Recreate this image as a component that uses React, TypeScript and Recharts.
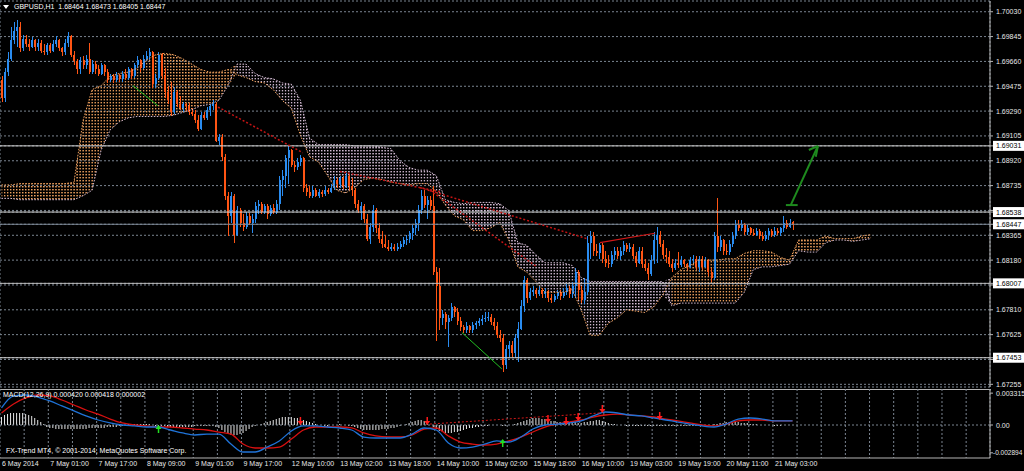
import React from "react";
import {
  ComposedChart,
  Bar,
  Line,
  Area,
  Scatter,
  XAxis,
  YAxis,
  CartesianGrid,
  ReferenceLine,
} from "recharts";

// GBPUSD H1, one entry per hourly bar (6 May 09:00 .. 21 May 09:00)
const opens = [
  1.6952, 1.6939, 1.6958, 1.6968, 1.6982, 1.6989, 1.6992, 1.6976, 1.6983, 1.6979,
  1.6977, 1.6982, 1.6977, 1.698, 1.6974, 1.6973, 1.6978, 1.6974, 1.6979, 1.6982,
  1.6976, 1.6973, 1.698, 1.6985, 1.6971, 1.6966, 1.696, 1.6967, 1.6963, 1.6968,
  1.6958, 1.6964, 1.696, 1.6957, 1.6963, 1.6958, 1.6952, 1.6955, 1.6952, 1.6956,
  1.6953, 1.6957, 1.6954, 1.696, 1.6955, 1.6963, 1.6967, 1.6961, 1.6968, 1.697,
  1.6973, 1.6949, 1.6954, 1.6971, 1.6955, 1.6943, 1.6937, 1.6928, 1.6943, 1.6934,
  1.6931, 1.6934, 1.6933, 1.6928, 1.6927, 1.6922, 1.6916, 1.6926, 1.6924, 1.693,
  1.6933, 1.6934, 1.6907, 1.691, 1.6895, 1.6866, 1.6851, 1.6866, 1.6837, 1.6855,
  1.6846, 1.6843, 1.6851, 1.6846, 1.6849, 1.6858, 1.686, 1.6854, 1.6858, 1.6852,
  1.6857, 1.6854, 1.686, 1.6878, 1.6881, 1.6894, 1.69, 1.6889, 1.6887, 1.6891,
  1.6894, 1.6872, 1.6869, 1.6866, 1.687, 1.6866, 1.6869, 1.6867, 1.687, 1.6869,
  1.6872, 1.6878, 1.6875, 1.6879, 1.6873, 1.6881, 1.6873, 1.687, 1.686, 1.6855,
  1.6858, 1.6849, 1.6834, 1.6843, 1.6855, 1.6842, 1.6834, 1.683, 1.6828, 1.6826,
  1.6828, 1.6826, 1.6828, 1.683, 1.6833, 1.6834, 1.6838, 1.6842, 1.6846, 1.6855,
  1.6866, 1.6859, 1.6863, 1.6858, 1.6809, 1.6799, 1.6775, 1.6778, 1.6772, 1.6775,
  1.6783, 1.6779, 1.6773, 1.6768, 1.6766, 1.6769, 1.6766, 1.677, 1.6771, 1.6773,
  1.6774, 1.6775, 1.6776, 1.6772, 1.6769, 1.6762, 1.676, 1.674, 1.6752, 1.6755,
  1.6749, 1.676, 1.6767, 1.6784, 1.6803, 1.679, 1.6794, 1.6796, 1.6793, 1.6796,
  1.6793, 1.6795, 1.679, 1.6788, 1.6791, 1.6794, 1.6791, 1.6794, 1.6797, 1.6793,
  1.6799, 1.6809, 1.6796, 1.6788, 1.6794, 1.6831, 1.6836, 1.6825, 1.6823, 1.6829,
  1.6819, 1.6816, 1.6815, 1.6822, 1.6825, 1.6821, 1.6825, 1.6829, 1.6826, 1.6828,
  1.6821, 1.6816, 1.6825, 1.6815, 1.6812, 1.6808, 1.6818, 1.6833, 1.6837, 1.683,
  1.6822, 1.682, 1.6815, 1.6812, 1.6816, 1.6814, 1.6818, 1.6815, 1.6813, 1.6818,
  1.6819, 1.6813, 1.6819, 1.6813, 1.6818, 1.6809, 1.6805, 1.6836, 1.6828, 1.6833,
  1.6825, 1.6824, 1.683, 1.6836, 1.6844, 1.6842, 1.6845, 1.6839, 1.6842, 1.6838,
  1.6837, 1.684, 1.6836, 1.6834, 1.6837, 1.684, 1.6837, 1.684, 1.6838, 1.6842,
  1.6846, 1.6843, 1.68464,
];
const highs = [
  1.6955, 1.6961, 1.6973, 1.6992, 1.6995, 1.6997, 1.6995, 1.6986, 1.6986, 1.6983,
  1.6984, 1.6983, 1.6983, 1.6982, 1.6979, 1.698, 1.698, 1.6982, 1.6985, 1.6983,
  1.6977, 1.6983, 1.6988, 1.6986, 1.6974, 1.6968, 1.6969, 1.697, 1.6971, 1.698,
  1.6967, 1.6966, 1.6963, 1.6965, 1.6964, 1.696, 1.6957, 1.6957, 1.6958, 1.6957,
  1.6959, 1.696, 1.6962, 1.6961, 1.6965, 1.697, 1.6968, 1.6971, 1.6974, 1.6976,
  1.6974, 1.6957, 1.6973, 1.6972, 1.6961, 1.6948, 1.6951, 1.6947, 1.6945, 1.694,
  1.6936, 1.6935, 1.6935, 1.6931, 1.693, 1.6926, 1.6928, 1.6928, 1.6932, 1.6934,
  1.6937, 1.6936, 1.6912, 1.6912, 1.6897, 1.6869, 1.6869, 1.6867, 1.6858, 1.6857,
  1.6852, 1.6854, 1.6853, 1.6852, 1.6861, 1.6863, 1.6861, 1.686, 1.686, 1.6859,
  1.686, 1.6863, 1.6881, 1.6885, 1.6896, 1.6903, 1.6901, 1.6892, 1.6894, 1.6896,
  1.6895, 1.6875, 1.6873, 1.6873, 1.6872, 1.6871, 1.687, 1.6873, 1.6872, 1.6875,
  1.6881, 1.6879, 1.6881, 1.6881, 1.6883, 1.6882, 1.6879, 1.6872, 1.6863, 1.6861,
  1.686, 1.6852, 1.6846, 1.6859, 1.6857, 1.6846, 1.684, 1.6837, 1.6833, 1.6831,
  1.683, 1.6831, 1.6832, 1.6835, 1.6837, 1.684, 1.6844, 1.6849, 1.6859, 1.687,
  1.687, 1.6866, 1.6866, 1.6873, 1.6813, 1.6812, 1.6781, 1.6779, 1.6777, 1.6786,
  1.6784, 1.6782, 1.6776, 1.677, 1.6772, 1.677, 1.6772, 1.6773, 1.6775, 1.6777,
  1.6779, 1.6779, 1.6778, 1.6775, 1.6772, 1.6766, 1.6763, 1.6755, 1.6758, 1.6758,
  1.6763, 1.6772, 1.6788, 1.6806, 1.6805, 1.6797, 1.6799, 1.6797, 1.6799, 1.6797,
  1.6797, 1.6796, 1.6793, 1.6793, 1.6796, 1.6796, 1.6797, 1.68, 1.6799, 1.6802,
  1.6812, 1.6811, 1.6799, 1.6805, 1.6836, 1.684, 1.6839, 1.683, 1.6831, 1.6831,
  1.6825, 1.6822, 1.6825, 1.6828, 1.6828, 1.6828, 1.6832, 1.6831, 1.6831, 1.683,
  1.6824, 1.6828, 1.6828, 1.6819, 1.6816, 1.6822, 1.6839, 1.6843, 1.684, 1.6833,
  1.6827, 1.6825, 1.6819, 1.6819, 1.6824, 1.6821, 1.6819, 1.6816, 1.682, 1.6822,
  1.6821, 1.6821, 1.6821, 1.682, 1.6819, 1.6812, 1.6839, 1.6864, 1.6836, 1.6834,
  1.683, 1.6833, 1.6839, 1.6848, 1.6848, 1.6848, 1.6846, 1.6844, 1.6843, 1.6841,
  1.6842, 1.6841, 1.6839, 1.684, 1.6842, 1.6841, 1.6843, 1.6842, 1.6843, 1.6851,
  1.6848, 1.6849, 1.68473,
];
const lows = [
  1.6936, 1.6936, 1.6955, 1.6966, 1.6979, 1.6977, 1.6973, 1.6974, 1.6977, 1.6974,
  1.6976, 1.6974, 1.6974, 1.6972, 1.6971, 1.6971, 1.6972, 1.6973, 1.6977, 1.6974,
  1.697, 1.6971, 1.6977, 1.6969, 1.6963, 1.6957, 1.6957, 1.696, 1.696, 1.6957,
  1.6957, 1.6957, 1.6955, 1.6956, 1.6955, 1.695, 1.6951, 1.695, 1.6951, 1.6951,
  1.6951, 1.6952, 1.6952, 1.6953, 1.6954, 1.6961, 1.6958, 1.696, 1.6966, 1.6967,
  1.6946, 1.6946, 1.6952, 1.6953, 1.6939, 1.6934, 1.6925, 1.6927, 1.6932, 1.693,
  1.6928, 1.6929, 1.6926, 1.6925, 1.692, 1.6914, 1.6915, 1.6922, 1.6922, 1.6925,
  1.693, 1.6906, 1.6904, 1.6892, 1.6863, 1.6836, 1.6846, 1.6831, 1.6836, 1.6843,
  1.684, 1.6841, 1.6844, 1.6838, 1.6846, 1.6852, 1.6852, 1.6852, 1.6849, 1.6851,
  1.6852, 1.6852, 1.6855, 1.6866, 1.6872, 1.6875, 1.6887, 1.6884, 1.6885, 1.6888,
  1.6869, 1.6866, 1.6864, 1.6864, 1.6865, 1.6864, 1.6865, 1.6866, 1.6867, 1.6868,
  1.687, 1.6872, 1.6872, 1.6871, 1.6872, 1.687, 1.6866, 1.6857, 1.6853, 1.6848,
  1.6846, 1.6832, 1.683, 1.6839, 1.6838, 1.6831, 1.6827, 1.6827, 1.6825, 1.6825,
  1.6825, 1.6825, 1.6826, 1.6828, 1.6829, 1.6831, 1.6833, 1.6837, 1.684, 1.6852,
  1.6857, 1.6849, 1.6855, 1.6807, 1.6758, 1.6766, 1.677, 1.6767, 1.6753, 1.6773,
  1.6776, 1.677, 1.6765, 1.6764, 1.6764, 1.6764, 1.6764, 1.6767, 1.6769, 1.677,
  1.6772, 1.6773, 1.677, 1.6766, 1.676, 1.6757, 1.6735, 1.6737, 1.6746, 1.6746,
  1.6745, 1.6742, 1.6766, 1.6779, 1.6786, 1.6788, 1.6791, 1.679, 1.6791, 1.679,
  1.679, 1.6787, 1.6786, 1.6787, 1.6789, 1.6788, 1.679, 1.6792, 1.679, 1.679,
  1.679, 1.6788, 1.6786, 1.6785, 1.6792, 1.6819, 1.6821, 1.6821, 1.6819, 1.6816,
  1.6813, 1.6812, 1.6813, 1.6818, 1.6819, 1.6818, 1.6822, 1.6824, 1.6824, 1.6819,
  1.6813, 1.6815, 1.6812, 1.681, 1.6803, 1.6806, 1.6815, 1.6816, 1.6828, 1.6819,
  1.6816, 1.6813, 1.6809, 1.6811, 1.6812, 1.6813, 1.6813, 1.6811, 1.6812, 1.6815,
  1.6811, 1.6809, 1.6811, 1.6812, 1.6806, 1.6802, 1.6803, 1.6824, 1.6825, 1.6822,
  1.6822, 1.6822, 1.6828, 1.6834, 1.684, 1.684, 1.6837, 1.6837, 1.6837, 1.6836,
  1.6836, 1.6834, 1.6832, 1.6832, 1.6833, 1.6835, 1.6835, 1.6837, 1.6836, 1.6839,
  1.6841, 1.6842, 1.68405,
];
const closes = [
  1.6939, 1.6958, 1.6968, 1.6982, 1.6989, 1.6992, 1.6976, 1.6983, 1.6979, 1.6977,
  1.6982, 1.6977, 1.698, 1.6974, 1.6973, 1.6978, 1.6974, 1.6979, 1.6982, 1.6976,
  1.6973, 1.698, 1.6985, 1.6971, 1.6966, 1.696, 1.6967, 1.6963, 1.6968, 1.6958,
  1.6964, 1.696, 1.6957, 1.6963, 1.6958, 1.6952, 1.6955, 1.6952, 1.6956, 1.6953,
  1.6957, 1.6954, 1.696, 1.6955, 1.6963, 1.6967, 1.6961, 1.6968, 1.697, 1.6973,
  1.6949, 1.6954, 1.6971, 1.6955, 1.6943, 1.6937, 1.6928, 1.6943, 1.6934, 1.6931,
  1.6934, 1.6933, 1.6928, 1.6927, 1.6922, 1.6916, 1.6926, 1.6924, 1.693, 1.6933,
  1.6934, 1.6907, 1.691, 1.6895, 1.6866, 1.6851, 1.6866, 1.6837, 1.6855, 1.6846,
  1.6843, 1.6851, 1.6846, 1.6849, 1.6858, 1.686, 1.6854, 1.6858, 1.6852, 1.6857,
  1.6854, 1.686, 1.6878, 1.6881, 1.6894, 1.69, 1.6889, 1.6887, 1.6891, 1.6894,
  1.6872, 1.6869, 1.6866, 1.687, 1.6866, 1.6869, 1.6867, 1.687, 1.6869, 1.6872,
  1.6878, 1.6875, 1.6879, 1.6873, 1.6881, 1.6873, 1.687, 1.686, 1.6855, 1.6858,
  1.6849, 1.6834, 1.6843, 1.6855, 1.6842, 1.6834, 1.683, 1.6828, 1.6826, 1.6828,
  1.6826, 1.6828, 1.683, 1.6833, 1.6834, 1.6838, 1.6842, 1.6846, 1.6855, 1.6866,
  1.6859, 1.6863, 1.6858, 1.6809, 1.6799, 1.6775, 1.6778, 1.6772, 1.6775, 1.6783,
  1.6779, 1.6773, 1.6768, 1.6766, 1.6769, 1.6766, 1.677, 1.6771, 1.6773, 1.6774,
  1.6775, 1.6776, 1.6772, 1.6769, 1.6762, 1.676, 1.674, 1.6752, 1.6755, 1.6749,
  1.676, 1.6767, 1.6784, 1.6803, 1.679, 1.6794, 1.6796, 1.6793, 1.6796, 1.6793,
  1.6795, 1.679, 1.6788, 1.6791, 1.6794, 1.6791, 1.6794, 1.6797, 1.6793, 1.6799,
  1.6809, 1.6796, 1.6788, 1.6794, 1.6831, 1.6836, 1.6825, 1.6823, 1.6829, 1.6819,
  1.6816, 1.6815, 1.6822, 1.6825, 1.6821, 1.6825, 1.6829, 1.6826, 1.6828, 1.6821,
  1.6816, 1.6825, 1.6815, 1.6812, 1.6808, 1.6818, 1.6833, 1.6837, 1.683, 1.6822,
  1.682, 1.6815, 1.6812, 1.6816, 1.6814, 1.6818, 1.6815, 1.6813, 1.6818, 1.6819,
  1.6813, 1.6819, 1.6813, 1.6818, 1.6809, 1.6805, 1.6836, 1.6828, 1.6833, 1.6825,
  1.6824, 1.683, 1.6836, 1.6844, 1.6842, 1.6845, 1.6839, 1.6842, 1.6838, 1.6837,
  1.684, 1.6836, 1.6834, 1.6837, 1.684, 1.6837, 1.684, 1.6838, 1.6842, 1.6846,
  1.6843, 1.6846, 1.68447,
];

// Ichimoku senkou spans, read every 3rd bar (bar 0 .. 288, cloud runs 26 bars ahead)
const spanA = [
  1.6874, 1.6874, 1.6875, 1.6875, 1.6875, 1.6875, 1.6875, 1.6875, 1.6876, 1.6922,
  1.6945, 1.6948, 1.6955, 1.6957, 1.6958, 1.6961, 1.6967, 1.6971, 1.6972, 1.6971,
  1.6968, 1.6964, 1.696, 1.6958, 1.6958, 1.696, 1.6956, 1.6954, 1.6951, 1.695,
  1.6945, 1.6937, 1.6931, 1.6911, 1.6895, 1.6891, 1.6881, 1.687, 1.6868, 1.6872,
  1.6878, 1.6879, 1.6878, 1.6876, 1.6875, 1.6874, 1.6875, 1.6875, 1.6869, 1.6859,
  1.6851, 1.6848, 1.684, 1.684, 1.6842, 1.6846, 1.6833, 1.6813, 1.6809, 1.6802,
  1.6794, 1.6794, 1.6794, 1.6796, 1.6781, 1.6762, 1.6762, 1.6771, 1.6775, 1.6781,
  1.678, 1.6779, 1.6783, 1.6792, 1.6805, 1.6811, 1.6814, 1.6818, 1.6818, 1.6818,
  1.6819, 1.6819, 1.6823, 1.6825, 1.6825, 1.6824, 1.682, 1.6818, 1.6833, 1.6833,
  1.6833, 1.6836, 1.6834, 1.6834, 1.6834, 1.6836, 1.6837,
];
const spanB = [
  1.6864, 1.6864, 1.6863, 1.6863, 1.6863, 1.6863, 1.6863, 1.6863, 1.6863, 1.6866,
  1.687, 1.69, 1.6915, 1.6921, 1.6924, 1.6925, 1.6925, 1.6925, 1.6925, 1.6926,
  1.6928, 1.693, 1.6933, 1.6934, 1.6937, 1.6948, 1.6964, 1.6964, 1.6957, 1.6954,
  1.6953, 1.695, 1.6949, 1.6937, 1.6909, 1.6904, 1.6904, 1.6904, 1.6904, 1.6903,
  1.6903, 1.6903, 1.6902, 1.6901, 1.6892, 1.6887, 1.6885, 1.6885, 1.6881, 1.6863,
  1.6861, 1.686, 1.6861, 1.6861, 1.6861, 1.686, 1.6855, 1.6831, 1.6829, 1.6822,
  1.6816, 1.6816, 1.6816, 1.6814, 1.6805, 1.6802, 1.6802, 1.6802, 1.6802, 1.6802,
  1.6802, 1.6802, 1.6802, 1.6802, 1.6784, 1.6786, 1.6786, 1.6786, 1.6786, 1.6786,
  1.6786, 1.6786, 1.6794, 1.6811, 1.6813, 1.6813, 1.6814, 1.6815, 1.6825, 1.6824,
  1.6824, 1.6831, 1.6833, 1.6833, 1.6832, 1.6833, 1.6834,
];

// MACD(12,26,9) in points (0.00001), read every 4th bar plus the last bar
const macdPts = [
  177, 302, 312, 291, 250, 198, 146, 94, 52, 21,
  0, -10, -21, -21, -52, -83, -104, -94, -94, -198,
  -281, -281, -229, -166, -62, -10, -10, -21, -31, -52,
  -125, -135, -135, -135, -94, -31, -52, -187, -239, -229,
  -198, -166, -177, -125, -42, 0, 10, 21, 42, 94,
  135, 125, 104, 94, 73, 52, 31, 10, -10, -21,
  10, 62, 73, 62, 42, 42, 42,
];
const signalPts = [
  125, 218, 281, 312, 302, 260, 208, 156, 114, 62,
  21, 0, -10, -21, -21, -31, -42, -52, -73, -94,
  -198, -239, -239, -229, -146, -52, -21, -21, -21, -31,
  -83, -114, -125, -125, -104, -42, -31, -114, -177, -198,
  -208, -198, -166, -125, -73, -21, 10, 31, 52, 83,
  104, 114, 104, 94, 83, 62, 42, 21, 0, -10,
  10, 42, 52, 52, 42, 42, 42,
];
// histogram in points, one per bar
const osmaPts = [
  83, 104, 114, 125, 125, 125, 125, 125, 114, 104, 94, 73, 52, 31, 10,
  -21, -31, -31, -42, -42, -42, -42, -42, -42, -42, -42, -42, -42, -42,
  -31, -31, -31, -31, -31, -31, -21, -21, -21, -21, -10, -10,
  0, 10, 10, 10, 10, 10, 10, 10, 10, 0,
  -10, -10, -10, -10, -21, -21, -21, -21, -21, -21, -21, -21, -21,
  -10, -10, -10, -10, -10, -10, -10,
  -21, -31, -52, -73, -94, -104, -104, -104, -94, -83, -62, -42, -21, -10, 0, 10,
  21, 31, 42, 52, 62, 73, 83, 83, 83, 83, 73, 73, 62, 52, 42, 31, 21, 10,
  0, 0, -10, -10, 0, 0, 0, 10, 0, 0, -10, -10, -21, -31,
  -42, -52, -52, -52, -52, -52, -52, -42, -42, -42, -31, -31, -21, -10, 0,
  10, 21, 31, 42, 52, 52, 42, 21,
  0, -21, -42, -62, -73, -83, -83, -83, -73, -73, -62, -52, -42, -31, -31, -21, -21,
  -10, -10, -10, 0, 0, 0, 0, -10, -10, 0, 0, 10,
  21, 31, 42, 52, 62, 73, 73, 73, 62, 62, 52, 42, 42, 31, 31, 21,
  21, 31, 31, 31, 21, 21, 31, 31, 42, 42, 52, 52, 42, 31, 21,
  10, 10, 0, 0, 0,
  -10, -10, -10, -10, -10, -10, -10, -10, -10,
  -10, -10, -10, -10, -10, -10, -10, -10, -10,
  -10, -10, -10, -10, -10, -10, -10, -10, -10,
  0, 0, 10, 10, 21, 21, 31, 31, 31, 31, 31, 21, 21, 21, 10, 10, 10, 0, 0,
  0, 0, 0, -10, -10, -10, 0, 0, 0, 0,
];
// MACD signal arrows (bar, points)
const sellArrows = [
  { i: 99, v: 31 }, { i: 141, v: 31 }, { i: 181, v: 52 }, { i: 187, v: 31 },
  { i: 191, v: 73 }, { i: 199, v: 156 }, { i: 218, v: 83 },
];
const buyArrows = [{ i: 52, v: -31 }, { i: 166, v: -177 }];

const timeLabels = [
  "6 May 2014", "7 May 01:00", "7 May 17:00", "8 May 09:00", "9 May 01:00",
  "9 May 17:00", "12 May 10:00", "13 May 02:00", "13 May 18:00", "14 May 10:00",
  "15 May 02:00", "15 May 18:00", "16 May 10:00", "19 May 03:00", "19 May 19:00",
  "20 May 11:00", "21 May 03:00",
];
const priceTicks = [
  1.7003, 1.69845, 1.6966, 1.69475, 1.6929, 1.69105, 1.6892, 1.68735,
  1.6855, 1.68365, 1.6818, 1.67995, 1.6781, 1.67625, 1.6744, 1.67255,
];
const levels = [
  { price: 1.69031, color: "#d2d2d2" },
  { price: 1.68538, color: "#d2d2d2" },
  { price: 1.68447, color: "#7d8b99" },
  { price: 1.68007, color: "#bdbdbd" },
  { price: 1.67453, color: "#d2d2d2" },
];
const macdTicks = [0.003315, 0, -0.002894];

// hand drawn objects on the chart (bar, price)
const redDotted = [
  [{ x: 71.7, y: 1.6932 }, { x: 99.8, y: 1.6898 }],
  [{ x: 112.1, y: 1.6884 }, { x: 145.2, y: 1.6869 }],
  [{ x: 138.6, y: 1.6872 }, { x: 193.9, y: 1.6834 }],
  [{ x: 141.9, y: 1.687 }, { x: 177.3, y: 1.6813 }],
];
const redSolid = [{ x: 198.2, y: 1.6831 }, { x: 216.4, y: 1.6838 }];
const greenThin = [
  [{ x: 43.5, y: 1.6948 }, { x: 51.8, y: 1.6933 }],
  [{ x: 152.5, y: 1.6764 }, { x: 165.7, y: 1.6737 }],
];
const greenArrow = [
  [{ x: 259.8, y: 1.6859 }, { x: 263.7, y: 1.6859 }],
  [{ x: 261.4, y: 1.6859 }, { x: 270.4, y: 1.6903 }],
  [{ x: 270.4, y: 1.6903 }, { x: 267.4, y: 1.69 }],
  [{ x: 270.4, y: 1.6903 }, { x: 269.7, y: 1.6895 }],
];

const BULL = "#2a8cf0";
const BEAR = "#ff5514";
const SANDY = "#f4a460";
const THISTLE = "#d8bfd8";
const GRID = "#7b8591";
const FONT = "Liberation Sans, Arial, sans-serif";
const X_DOMAIN = [-0.5, 327.4];

const candleRows = closes.map((c, i) => ({
  i,
  open: opens[i],
  high: highs[i],
  low: lows[i],
  close: c,
}));

const cloudRows = spanA.map((a, k) => ({
  i: k * 3,
  a,
  b: spanB[k],
  range: [Math.min(a, spanB[k]), Math.max(a, spanB[k])],
}));

// split the cloud where the spans cross so each piece gets its own colour
const cloudSegments: { bull: boolean; rows: typeof cloudRows }[] = [];
cloudRows.forEach((r) => {
  const bull = r.a >= r.b;
  const last = cloudSegments[cloudSegments.length - 1];
  if (!last || last.bull !== bull) {
    if (last) last.rows.push(r);
    cloudSegments.push({ bull, rows: [r] });
  } else {
    last.rows.push(r);
  }
});

const macdBars = [...Array.from({ length: 66 }, (_, k) => k * 4), 262];
const macdRows = macdBars.map((i, k) => ({
  i,
  macd: macdPts[k] / 100000,
  signal: signalPts[k] / 100000,
}));
const osmaRows = osmaPts.map((p, i) => ({ i, osma: p / 100000 }));
const sellRows = sellArrows.map((a) => ({ i: a.i, v: a.v / 100000 }));
const buyRows = buyArrows.map((a) => ({ i: a.i, v: a.v / 100000 }));

const gridTicks = Array.from({ length: 41 }, (_, k) => k * 8 - 0.5);

const Candle = (props: any) => {
  const { x, y, width, height, payload } = props;
  if (payload == null || x == null || y == null) return null;
  const { open, close, high, low } = payload;
  const color = close >= open ? BULL : BEAR;
  const cx = x + width / 2;
  const k = high > low ? height / (high - low) : 0;
  const top = y + (high - Math.max(open, close)) * k;
  const bot = y + (high - Math.min(open, close)) * k;
  return (
    <g shapeRendering="crispEdges">
      <rect x={cx - 0.5} y={y} width={1} height={Math.max(height, 1)} fill={color} />
      <rect x={cx - 1} y={top} width={2} height={Math.max(bot - top, 1)} fill={color} />
    </g>
  );
};

const PriceTick = (props: any) => {
  const { x, y, payload } = props;
  const v = payload.value;
  const lvl = levels.find((l) => Math.abs(l.price - v) < 1e-7);
  if (lvl) {
    return (
      <g>
        <rect x={x - 3} y={y - 5} width={32} height={10} fill="#ffffff" />
        <text x={x} y={y + 2.5} fontSize={7} fontFamily={FONT} fill="#000">
          {v.toFixed(5)}
        </text>
      </g>
    );
  }
  if (levels.some((l) => Math.abs(l.price - v) < 0.00025)) return <g />;
  return (
    <text x={x} y={y + 2.5} fontSize={7} fontFamily={FONT} fill="#e8e8e8">
      {v.toFixed(5)}
    </text>
  );
};

const MacdTick = (props: any) => {
  const { x, y, payload } = props;
  const v = payload.value;
  const text = v === 0 ? "0.00" : v.toFixed(6);
  // the negative label is the widest one; keep it inside the page
  const neg = v < 0;
  return (
    <text
      x={neg ? x - 3 : x}
      y={y + 2.5}
      fontSize={neg ? 6.5 : 7}
      fontFamily={FONT}
      fill="#e8e8e8"
    >
      {text}
    </text>
  );
};

const TimeTick = (props: any) => {
  const { x, y, payload } = props;
  const k = Math.round((payload.value + 0.5) / 8);
  if (k % 2 !== 0) return <g />;
  const label = timeLabels[k / 2];
  if (!label) return <g />;
  return (
    <text x={x + 2} y={y + 7.5} fontSize={7} fontFamily={FONT} fill="#e8e8e8">
      {label}
    </text>
  );
};

const DownArrow = (props: any) => {
  const { cx, cy } = props;
  if (cx == null || cy == null) return null;
  return (
    <g>
      <line x1={cx} x2={cx} y1={cy - 5} y2={cy} stroke="#ff1a1a" strokeWidth={1.5} />
      <path d={`M${cx - 3},${cy - 1} L${cx + 3},${cy - 1} L${cx},${cy + 3} Z`} fill="#ff1a1a" />
    </g>
  );
};

const UpArrow = (props: any) => {
  const { cx, cy } = props;
  if (cx == null || cy == null) return null;
  return (
    <g>
      <line x1={cx} x2={cx} y1={cy} y2={cy + 5} stroke="#22e022" strokeWidth={1.5} />
      <path d={`M${cx - 3},${cy + 1} L${cx + 3},${cy + 1} L${cx},${cy - 3} Z`} fill="#22e022" />
    </g>
  );
};

const textStyle: React.CSSProperties = {
  position: "absolute",
  fontFamily: FONT,
  fontSize: 7,
  lineHeight: "10px",
  color: "#ffffff",
  whiteSpace: "pre",
};

export default function App() {
  return (
    <div
      style={{
        position: "absolute",
        left: 0,
        top: 0,
        width: 1024,
        height: 471,
        background: "#000",
        overflow: "hidden",
        fontFamily: FONT,
      }}
    >
      <div style={{ position: "absolute", left: 0, top: 0 }}>
        <ComposedChart
          width={1024}
          height={388}
          data={candleRows}
          margin={{ top: 1, right: 0, bottom: 1, left: 0 }}
        >
          <defs>
            <pattern id="sandyDots" patternUnits="userSpaceOnUse" x={0.9} y={0} width={3.02} height={3}>
              <rect width={1.4} height={1.4} fill={SANDY} />
            </pattern>
            <pattern id="thistleDots" patternUnits="userSpaceOnUse" x={0.9} y={0} width={3.02} height={3}>
              <rect width={1.4} height={1.4} fill={THISTLE} />
            </pattern>
          </defs>
          <CartesianGrid stroke={GRID} strokeDasharray="2 2" />
          <XAxis
            dataKey="i"
            type="number"
            domain={X_DOMAIN}
            ticks={gridTicks}
            allowDataOverflow
            height={0}
            tick={false}
            tickLine={false}
            axisLine={{ stroke: "#b4b4b4" }}
          />
          <YAxis
            orientation="right"
            type="number"
            width={34}
            domain={[1.67235, 1.7011]}
            allowDataOverflow
            ticks={[...priceTicks, ...levels.map((l) => l.price)]}
            tick={<PriceTick />}
            tickSize={3}
            tickMargin={3}
            tickLine={{ stroke: "#b4b4b4" }}
            axisLine={{ stroke: "#b4b4b4" }}
            interval={0}
          />
          {cloudSegments.map((s, k) => (
            <Area
              key={`cloud-${k}`}
              data={s.rows}
              dataKey="range"
              type="linear"
              stroke="none"
              fill={s.bull ? "url(#sandyDots)" : "url(#thistleDots)"}
              fillOpacity={1}
              isAnimationActive={false}
            />
          ))}
          <Line
            data={cloudRows}
            dataKey="a"
            type="linear"
            stroke={SANDY}
            strokeDasharray="1.5 1.5"
            strokeWidth={1}
            dot={false}
            isAnimationActive={false}
          />
          <Line
            data={cloudRows}
            dataKey="b"
            type="linear"
            stroke={THISTLE}
            strokeDasharray="1.5 1.5"
            strokeWidth={1}
            dot={false}
            isAnimationActive={false}
          />
          {levels.map((l) => (
            <ReferenceLine key={l.price} y={l.price} stroke={l.color} strokeWidth={1} />
          ))}
          <Bar
            dataKey={(d: any) => [d.low, d.high]}
            shape={<Candle />}
            barSize={2}
            isAnimationActive={false}
          />
          {redDotted.map((seg, k) => (
            <ReferenceLine
              key={`rd-${k}`}
              segment={seg}
              stroke="#c41414"
              strokeDasharray="2 2"
              strokeWidth={1.5}
            />
          ))}
          <ReferenceLine segment={redSolid} stroke="#d01818" strokeWidth={1.2} />
          {greenThin.map((seg, k) => (
            <ReferenceLine key={`gt-${k}`} segment={seg} stroke="#22c022" strokeWidth={1} />
          ))}
          {greenArrow.map((seg, k) => (
            <ReferenceLine key={`ga-${k}`} segment={seg} stroke="#1e8a1e" strokeWidth={2} />
          ))}
        </ComposedChart>
      </div>

      <div style={{ position: "absolute", left: 0, top: 389, width: 991, height: 1, background: "#b4b4b4" }} />

      <div style={{ position: "absolute", left: 0, top: 387 }}>
        <ComposedChart
          width={1024}
          height={84}
          data={osmaRows}
          margin={{ top: 2, right: 0, bottom: 0, left: 0 }}
        >
          <CartesianGrid stroke={GRID} strokeDasharray="2 2" horizontal={false} />
          <XAxis
            dataKey="i"
            type="number"
            domain={X_DOMAIN}
            ticks={gridTicks}
            allowDataOverflow
            height={13}
            tick={<TimeTick />}
            tickSize={0}
            tickMargin={0}
            tickLine={false}
            axisLine={{ stroke: "#b4b4b4" }}
            interval={0}
          />
          <YAxis
            orientation="right"
            type="number"
            width={34}
            domain={[-0.003432, 0.003744]}
            allowDataOverflow
            ticks={macdTicks}
            tick={<MacdTick />}
            tickSize={3}
            tickMargin={3}
            tickLine={{ stroke: "#b4b4b4" }}
            axisLine={{ stroke: "#b4b4b4" }}
            interval={0}
          />
          <ReferenceLine y={0} stroke={GRID} strokeDasharray="2 2" />
          <Bar dataKey="osma" fill="#e6e6e6" barSize={1} isAnimationActive={false} />
          <Line
            data={macdRows}
            dataKey="signal"
            type="monotone"
            stroke="#d81010"
            strokeWidth={1.3}
            dot={false}
            isAnimationActive={false}
          />
          <Line
            data={macdRows}
            dataKey="macd"
            type="monotone"
            stroke="#1f73d8"
            strokeWidth={1.3}
            dot={false}
            isAnimationActive={false}
          />
          <ReferenceLine
            segment={[{ x: 141.9, y: 0.0001 }, { x: 198.2, y: 0.00125 }]}
            stroke="#d01818"
            strokeDasharray="2 2"
          />
          <Scatter data={sellRows} dataKey="v" shape={<DownArrow />} isAnimationActive={false} />
          <Scatter data={buyRows} dataKey="v" shape={<UpArrow />} isAnimationActive={false} />
        </ComposedChart>
      </div>

      <div
        style={{
          position: "absolute",
          left: 3,
          top: 5,
          width: 0,
          height: 0,
          borderLeft: "3px solid transparent",
          borderRight: "3px solid transparent",
          borderTop: "4px solid #ffffff",
        }}
      />
      <div style={{ ...textStyle, left: 14, top: 2 }}>GBPUSD,H1  1.68464 1.68473 1.68405 1.68447</div>
      <div style={{ ...textStyle, left: 3, top: 390 }}>MACD(12,26,9) 0.000420 0.000418 0.000002</div>
      <div style={{ ...textStyle, left: 6, top: 446 }}>
        FX-Trend MT4, © 2001-2014, MetaQuotes Software Corp.
      </div>
    </div>
  );
}
